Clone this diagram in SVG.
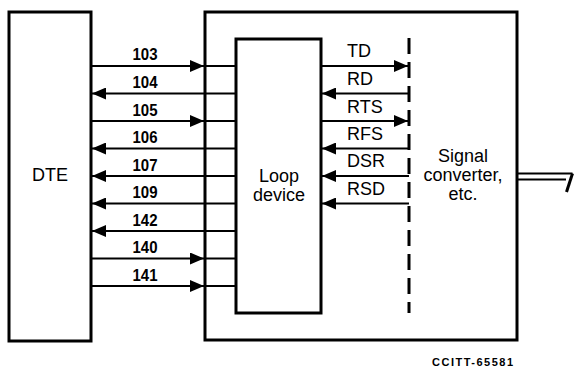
<svg xmlns="http://www.w3.org/2000/svg" width="576" height="370" viewBox="0 0 576 370">
<defs>
<style>
.box{fill:none;stroke:#000;stroke-width:3}
.ln{fill:none;stroke:#000;stroke-width:2}
.arr{fill:none;stroke:#000;stroke-width:2;marker-end:url(#ah)}
.t{font-family:"Liberation Sans",Arial,sans-serif;font-size:18px;fill:#000}
.n{font-family:"Liberation Sans",Arial,sans-serif;font-size:16.5px;font-weight:bold;fill:#000;text-anchor:middle}
</style>
<marker id="ah" viewBox="0 0 14 12" refX="14" refY="6" markerWidth="14" markerHeight="12" markerUnits="userSpaceOnUse" orient="auto">
<polygon points="0,0 14,6 0,12" fill="#000"/>
</marker>
</defs>
<rect width="576" height="370" fill="#fff"/>

<g id="dte">
<rect class="box" x="9" y="12" width="82" height="329"/>
<text class="t" x="50" y="181" text-anchor="middle" font-size="17">DTE</text>
</g>

<g id="unit">
<rect class="box" x="205" y="12" width="312" height="328"/>
<text class="t" x="463" y="162" text-anchor="middle">Signal</text>
<text class="t" x="463" y="181" text-anchor="middle">converter,</text>
<text class="t" x="463" y="200" text-anchor="middle">etc.</text>
</g>

<g id="loop">
<rect class="box" x="236" y="39" width="85" height="274"/>
<text class="t" x="279" y="182" text-anchor="middle">Loop</text>
<text class="t" x="279" y="201" text-anchor="middle">device</text>
</g>

<g id="boundary">
<line x1="409" y1="38" x2="409" y2="313" stroke="#000" stroke-width="3" stroke-dasharray="16 8"/>
</g>

<g id="connectors">
<path class="ln" d="M204,66 H236 M204,121 H236 M204,258.5 H236 M204,286 H236"/>
<path class="arr" d="M91,66 H204"/>
<path class="arr" d="M236,93.5 H92"/>
<path class="arr" d="M91,121 H204"/>
<path class="arr" d="M236,148.5 H92"/>
<path class="arr" d="M236,176 H92"/>
<path class="arr" d="M236,203.5 H92"/>
<path class="arr" d="M236,231 H92"/>
<path class="arr" d="M91,258.5 H204"/>
<path class="arr" d="M91,286 H204"/>
<path class="arr" d="M321,66 H408"/>
<path class="arr" d="M409,93.5 H322"/>
<path class="arr" d="M321,121 H408"/>
<path class="arr" d="M409,148.5 H322"/>
<path class="arr" d="M409,176 H322"/>
<path class="arr" d="M409,203.5 H322"/>
<path class="ln" d="M517,173.5 H572.5 M517,179.5 H566"/>
<path d="M572.5,173.5 L566.5,192" fill="none" stroke="#000" stroke-width="3"/>
</g>

<g id="labels">
<text class="n" x="145" y="60" textLength="25" lengthAdjust="spacingAndGlyphs">103</text>
<text class="n" x="145" y="88" textLength="25" lengthAdjust="spacingAndGlyphs">104</text>
<text class="n" x="145" y="115.5" textLength="25" lengthAdjust="spacingAndGlyphs">105</text>
<text class="n" x="145" y="143" textLength="25" lengthAdjust="spacingAndGlyphs">106</text>
<text class="n" x="145" y="170.5" textLength="25" lengthAdjust="spacingAndGlyphs">107</text>
<text class="n" x="145" y="198" textLength="25" lengthAdjust="spacingAndGlyphs">109</text>
<text class="n" x="145" y="225.5" textLength="25" lengthAdjust="spacingAndGlyphs">142</text>
<text class="n" x="145" y="253" textLength="25" lengthAdjust="spacingAndGlyphs">140</text>
<text class="n" x="145" y="281" textLength="25" lengthAdjust="spacingAndGlyphs">141</text>
<text class="t" x="347" y="57">TD</text>
<text class="t" x="347" y="85">RD</text>
<text class="t" x="347" y="113">RTS</text>
<text class="t" x="347" y="140">RFS</text>
<text class="t" x="347" y="167">DSR</text>
<text class="t" x="347" y="195">RSD</text>
<text x="472.5" y="366" text-anchor="middle" font-family="Liberation Sans,Arial,sans-serif" font-size="11" font-weight="bold" textLength="81" lengthAdjust="spacing">CCITT-65581</text>
</g>
</svg>
